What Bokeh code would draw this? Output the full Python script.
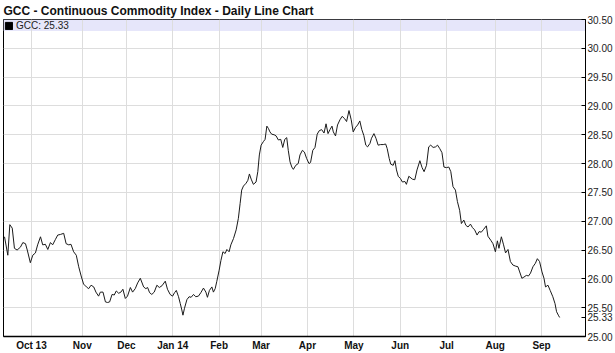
from bokeh.plotting import figure
from bokeh.models import (FixedTicker, BoxAnnotation, Legend, LegendItem, Range1d,
                          ColumnDataSource)
from bokeh.embed import file_html
from bokeh.resources import INLINE

# ---- data: trading-day index (0 = 1 Oct 2013) and index level ----
days = [
    -12.2, -10.7, -9.8, -8.7, -7.7, -6.5, -5.0, -3.9, -2.7, -1.9,
    -0.5, 0.6, 1.8, 2.8, 4.1, 5.1, 6.3, 7.4, 8.6, 9.6,
    10.8, 11.9, 13.1, 14.6, 15.7, 16.9, 17.9, 19.1, 20.3, 21.4,
    22.5, 23.6, 24.9, 25.9, 27.0, 28.2, 29.2, 30.4, 31.2, 32.4,
    33.5, 34.5, 35.4, 36.5, 37.5, 38.4, 39.5, 40.5, 41.4, 42.5,
    43.5, 44.8, 45.8, 47.0, 48.1, 49.3,
    50.8, 51.8, 52.6, 53.5, 54.5, 55.6, 56.8, 57.9, 59.1, 60.6,
    61.6, 62.8, 63.9, 64.8, 65.6, 66.6, 67.4, 68.1, 68.6, 69.3,
    70.4, 71.4, 72.3, 73.4, 74.4, 75.6, 76.7, 77.9, 79.0, 79.7,
    80.6, 81.7, 82.4, 83.2, 83.9, 85.0, 85.8, 86.7, 87.7, 88.5,
    89.5, 90.3, 91.5, 92.7, 93.7, 94.5, 95.2, 96.0, 97.2, 98.0,
    98.7, 99.5, 100.5, 101.7, 102.5, 103.2, 104.0, 105.0, 105.8, 106.6,
    107.3,
    108.0, 108.8, 109.9, 110.8, 111.8, 112.9, 113.8, 114.7, 115.6, 116.3,
    117.1, 117.9, 118.6, 119.7, 120.8, 121.6, 122.7, 123.6, 124.6, 125.7,
    126.4, 127.4, 128.4, 129.4, 130.3, 131.4, 132.5, 133.4, 134.3, 135.2,
    136.1, 136.7, 137.7, 138.6, 139.7, 140.7, 141.8, 142.7, 143.8, 144.8,
    145.7, 146.8, 147.7, 148.7, 149.6, 150.5, 151.4, 152.2, 153.3, 154.0,
    155.1, 156.0, 157.0, 158.1, 159.3, 160.4, 161.1, 162.0, 162.7, 163.8,
    164.6, 165.3, 166.1, 167.1, 168.0, 169.1, 169.8, 170.9,
    172.5, 173.6, 174.6, 175.9, 176.9, 177.8, 178.9, 179.9, 180.8, 181.9,
    183.0, 183.9, 184.9, 185.9, 186.8, 187.9, 189.0, 189.9, 190.9, 192.0,
    192.9, 193.9, 194.7, 195.8, 196.7, 197.7, 198.8, 199.7, 200.7, 201.8,
    202.7, 203.7, 204.8, 206.0, 206.7, 208.0, 209.0, 210.1, 211.0, 211.7,
    212.8, 213.8, 214.7, 215.8, 216.9, 218.0, 219.3, 220.3, 221.1, 222.1,
    223.0, 224.1, 225.1, 226.0, 227.1, 228.2, 229.1, 230.1, 231.2, 232.1,
    232.8, 233.9, 234.9, 236.1, 237.1, 237.8, 238.6, 239.2,
]
gcc = [
    26.73, 26.41, 26.94, 26.88, 26.53, 26.50, 26.55, 26.63, 26.61, 26.50,
    26.28, 26.41, 26.45, 26.59, 26.73, 26.59, 26.60, 26.51, 26.63, 26.59,
    26.68, 26.76, 26.77, 26.79, 26.61, 26.59, 26.60, 26.47, 26.41, 26.21,
    26.05, 25.91, 25.86, 25.83, 25.89, 25.86, 25.77, 25.70, 25.77, 25.77,
    25.60, 25.59, 25.60, 25.73, 25.72, 25.79, 25.75, 25.77, 25.82, 25.66,
    25.70, 25.85, 25.77, 25.83, 25.93, 26.01,
    25.86, 25.83, 25.85, 25.76, 25.73, 25.77, 25.89, 25.85, 25.88, 25.96,
    25.82, 25.73, 25.70, 25.76, 25.80, 25.69, 25.57, 25.46, 25.37, 25.49,
    25.64, 25.69, 25.68, 25.73, 25.69, 25.70, 25.76, 25.84, 25.77, 25.68,
    25.80, 25.86, 25.77, 25.83, 25.95, 26.15, 26.32, 26.47, 26.44, 26.51,
    26.47, 26.59, 26.70, 26.85, 27.05, 27.31, 27.54, 27.61, 27.66, 27.71,
    27.82, 27.73, 27.64, 27.68, 27.86, 28.15, 28.32, 28.38, 28.42, 28.65,
    28.61,
    28.55, 28.51, 28.50, 28.48, 28.41, 28.42, 28.28, 28.42, 28.45, 28.23,
    28.03, 27.94, 27.90, 27.97, 28.00, 28.15, 28.23, 28.20, 28.09, 28.00,
    28.02, 28.23, 28.28, 28.51, 28.57, 28.59, 28.53, 28.69, 28.52, 28.59,
    28.65, 28.55, 28.48, 28.67, 28.76, 28.82, 28.78, 28.73, 28.92, 28.76,
    28.55, 28.63, 28.67, 28.74, 28.59, 28.49, 28.32, 28.29, 28.35, 28.44,
    28.52, 28.44, 28.32, 28.33, 28.33, 28.34, 28.26, 28.09, 27.99, 27.97,
    28.05, 27.89, 27.78, 27.74, 27.68, 27.69, 27.64, 27.78,
    27.73, 27.72, 27.89, 28.05, 27.93, 27.86, 27.97, 28.29, 28.32, 28.28,
    28.29, 28.32, 28.26, 28.19, 27.94, 27.93, 27.94, 27.86, 27.60, 27.54,
    27.34, 27.19, 26.96, 27.02, 26.93, 26.90, 26.95, 26.89, 26.85, 26.76,
    26.82, 26.81, 26.86, 26.92, 26.74, 26.67, 26.61, 26.47, 26.66, 26.53,
    26.73, 26.59, 26.45, 26.51, 26.30, 26.24, 26.22, 26.21, 26.12, 26.01,
    26.03, 26.06, 26.05, 26.10, 26.21, 26.27, 26.35, 26.30, 26.12, 26.01,
    25.86, 25.89, 25.80, 25.69, 25.57, 25.43, 25.37, 25.33,
]

# month starts as trading-day index, and their labels
month_ticks = [0, 23, 43, 64, 85, 104, 125, 146, 167, 188, 210, 231]
month_labels = ["Oct 13", "Nov", "Dec", "Jan 14", "Feb", "Mar", "Apr", "May",
                "Jun", "Jul", "Aug", "Sep"]
price_ticks = [25.0, 25.5, 26.0, 26.5, 27.0, 27.5, 28.0, 28.5, 29.0, 29.5, 30.0, 30.5]

FONT = "Liberation Sans"
last = gcc[-1]

p = figure(width=615, height=353, output_backend="svg", toolbar_location=None,
           x_range=Range1d(-12.66, 250.9), y_range=Range1d(25.0, 30.5),
           y_axis_location="right", min_border_left=3, min_border_right=0,
           min_border_bottom=0, min_border_top=0,
           background_fill_color="white", border_fill_color="white")

p.title.text = "GCC - Continuous Commodity Index - Daily Line Chart"
p.title.text_font = FONT
p.title.text_font_size = "12px"
p.title.text_font_style = "bold"
p.title.text_color = "#111111"
p.title.align = "left"
p.title.standoff = 3

p.outline_line_color = "#000000"
p.outline_line_width = 1

# grids
p.xgrid.ticker = FixedTicker(ticks=month_ticks)
p.ygrid.ticker = FixedTicker(ticks=price_ticks)
for g in (p.xgrid, p.ygrid):
    g.grid_line_color = "#dddddd"
    g.grid_line_width = 1

# x axis
xa = p.xaxis[0]
xa.ticker = FixedTicker(ticks=month_ticks)
xa.major_label_overrides = {t: l for t, l in zip(month_ticks, month_labels)}
xa.major_tick_in = 0
xa.major_tick_out = 0
xa.minor_tick_in = 0
xa.minor_tick_out = 0
xa.axis_line_color = "#000000"
xa.axis_line_width = 1.5
xa.major_label_text_font = FONT
xa.major_label_text_font_size = "10px"
xa.major_label_text_font_style = "bold"
xa.major_label_text_color = "#111111"
xa.major_label_standoff = 3

# y axis (right), with the last price marked as an extra tick label
ya = p.yaxis[0]
ya.ticker = FixedTicker(ticks=price_ticks + [last])
ya.major_label_overrides = {**{t: f"{t:.2f}" for t in price_ticks}, last: f"{last:.2f}"}
ya.major_tick_in = 4
ya.major_tick_out = 0
ya.minor_tick_in = 0
ya.minor_tick_out = 0
ya.axis_line_color = "#000000"
ya.major_label_text_font = FONT
ya.major_label_text_font_size = "10px"
ya.major_label_text_color = "#222222"
ya.major_label_standoff = 2

# legend band
band = BoxAnnotation(bottom=30.30, fill_color="#e6e6fa", fill_alpha=1.0,
                     line_alpha=0, level="image")
p.add_layout(band)

src = ColumnDataSource(data=dict(x=days, y=gcc))
p.line("x", "y", source=src, line_color="#1a1a1a", line_width=1)

nan = float("nan")
sq = p.quad(left=[nan], right=[nan], top=[nan], bottom=[nan],
            fill_color="black", line_color="black")
legend = Legend(items=[LegendItem(label=f"GCC: {last:.2f}", renderers=[sq])],
                location="top_left", margin=1, padding=0, spacing=0,
                glyph_width=9, glyph_height=9, label_height=9, label_standoff=3,
                label_text_font=FONT, label_text_font_size="10px",
                label_text_color="#222222",
                background_fill_alpha=0, border_line_alpha=0)
p.add_layout(legend)

open("out.html", "w").write(file_html(p, INLINE))
